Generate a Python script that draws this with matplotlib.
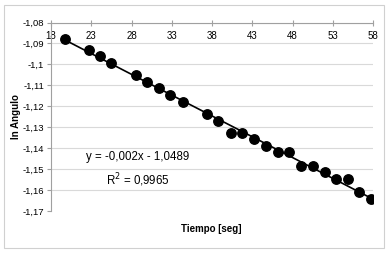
import numpy as np
import matplotlib.pyplot as plt
from matplotlib.patches import Rectangle

# -----------------------------
# DATA
# -----------------------------
tiempo = [19.7, 22.7, 24.1, 25.5, 28.5, 29.9, 31.4, 32.8, 34.4, 37.4, 38.7, 40.3,
          41.7, 43.2, 44.7, 46.2, 47.6, 49.0, 50.5, 52.0, 53.4, 54.9, 56.3, 57.8]
ln_angulo = [-1.0879, -1.0931, -1.0960, -1.0995, -1.1051, -1.1084, -1.1113, -1.1146,
             -1.1178, -1.1237, -1.1269, -1.1326, -1.1326, -1.1358, -1.1390, -1.1420,
             -1.1420, -1.1485, -1.1484, -1.1514, -1.1547, -1.1547, -1.1609, -1.1644]
x_ticks = [18, 23, 28, 33, 38, 43, 48, 53, 58]
y_ticks = [-1.08, -1.09, -1.10, -1.11, -1.12, -1.13, -1.14, -1.15, -1.16, -1.17]
eq_text = "y = -0,002x - 1,0489"
r2_text = "R$^2$ = 0,9965"

plt.rcParams['font.family'] = ['Liberation Sans Narrow', 'Liberation Sans', 'DejaVu Sans']

fig = plt.figure(figsize=(3.92, 2.57), dpi=100)
fig.patches.append(Rectangle((4 / 392, 1 - 248 / 257), 380 / 392, 243 / 257,
                             transform=fig.transFigure, fill=False,
                             edgecolor="#d0d0d0", linewidth=0.8))

ax = fig.add_axes([51 / 392, 1 - 211 / 257, 322 / 392, 188.5 / 257])

# trendline from a linear fit of the points
x = np.array(tiempo)
y = np.array(ln_angulo)
m, b = np.polyfit(x, y, 1)
xl = np.array([x.min(), x.max()])
ax.plot(xl, m * xl + b, color="black", linewidth=1.2, zorder=2)
ax.plot(x, y, "o", color="black", markersize=6.8, zorder=3)

ax.set_xlim(18, 58)
ax.set_ylim(-1.17, -1.08)
ax.set_xticks(x_ticks)
ax.set_yticks(y_ticks)
ax.set_xticklabels([str(t) for t in x_ticks])
ax.set_yticklabels([f"{t:g}".replace(".", ",") for t in y_ticks])

ax.yaxis.grid(True, color="#d9d9d9", linewidth=0.8)
ax.set_axisbelow(True)
ax.get_ygridlines()[-1].set_visible(False)

for s in ["right", "bottom"]:
    ax.spines[s].set_visible(False)
ax.spines["left"].set_color("#a0a0a0")
ax.spines["top"].set_color("#a0a0a0")

ax.xaxis.tick_top()
ax.tick_params(axis="x", direction="inout", length=4, color="#a0a0a0",
               labelsize=7, pad=-15.5)
ax.tick_params(axis="y", direction="out", length=3, color="#a0a0a0",
               labelsize=6.8, pad=2)

fig.text(16 / 392, 1 - 117 / 257, "ln Angulo", rotation=90, ha="center",
         va="center", fontsize=7, fontweight="bold")
fig.text(211 / 392, 1 - 229 / 257, "Tiempo [seg]", ha="center", va="center",
         fontsize=7, fontweight="bold")
fig.text(138 / 392, 1 - 157 / 257, eq_text, ha="center", va="center", fontsize=8.3)
fig.text(138 / 392, 1 - 180 / 257, r2_text, ha="center", va="center", fontsize=8.3)

fig.savefig("out.png", dpi=100)
